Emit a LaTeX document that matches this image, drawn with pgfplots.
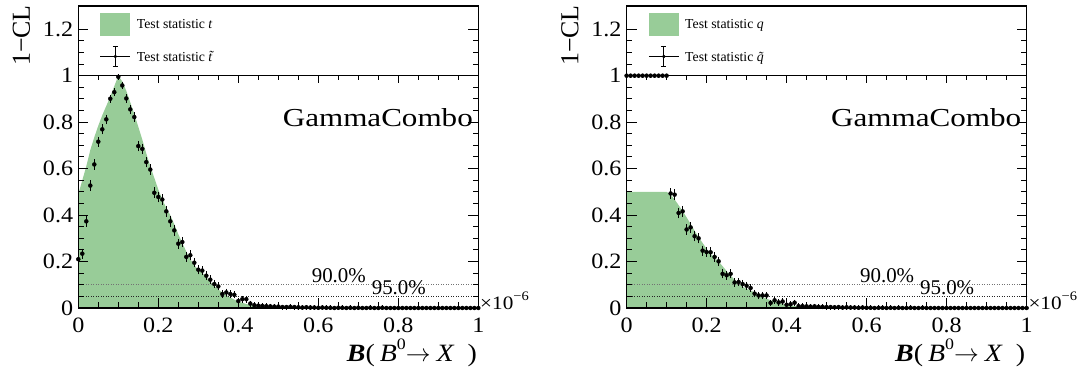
\documentclass[border=0pt]{standalone}
\usepackage{fontspec}
\setmainfont{Liberation Serif}
\newfontfamily\widefont[FakeStretch=1.1]{Liberation Serif}
\newfontfamily\gcfont[FakeStretch=1.2]{Liberation Serif}
\newfontfamily\labfont[FakeStretch=1.12]{Liberation Serif}
\usepackage{pgfplots}
\usepackage{pgfplotstable}
\pgfplotsset{compat=1.18}
\definecolor{fillgreen}{RGB}{152,204,152}

\pgfplotstableread{
x y e
0.00 0.210 0.0118
0.01 0.234 0.0122
0.02 0.373 0.0140
0.03 0.527 0.0144
0.04 0.618 0.0140
0.05 0.716 0.0130
0.06 0.769 0.0122
0.07 0.812 0.0113
0.08 0.901 0.0086
0.09 0.929 0.0074
0.10 0.995 0.0020
0.11 0.958 0.0058
0.12 0.902 0.0086
0.13 0.855 0.0102
0.14 0.822 0.0110
0.15 0.697 0.0133
0.16 0.685 0.0134
0.17 0.628 0.0140
0.18 0.596 0.0142
0.19 0.496 0.0144
0.20 0.478 0.0144
0.21 0.467 0.0144
0.22 0.416 0.0142
0.23 0.373 0.0140
0.24 0.334 0.0136
0.25 0.277 0.0129
0.26 0.284 0.0130
0.27 0.220 0.0120
0.28 0.227 0.0121
0.29 0.195 0.0114
0.30 0.165 0.0107
0.31 0.161 0.0106
0.32 0.139 0.0100
0.33 0.122 0.0094
0.34 0.103 0.0088
0.35 0.093 0.0084
0.36 0.060 0.0069
0.37 0.067 0.0072
0.38 0.060 0.0069
0.39 0.057 0.0067
0.40 0.030 0.0049
0.41 0.038 0.0055
0.42 0.038 0.0055
0.43 0.019 0.0039
0.44 0.012 0.0031
0.45 0.010 0.0029
0.46 0.009 0.0027
0.47 0.008 0.0026
0.48 0.007 0.0024
0.49 0.006 0.0022
0.50 0.006 0.0022
0.51 0.004 0.0018
0.52 0.004 0.0018
0.53 0.005 0.0020
0.54 0.004 0.0018
0.55 0.003 0.0016
0.56 0.002 0.0013
0.57 0.003 0.0016
0.58 0.002 0.0013
0.59 0.002 0.0013
0.60 0.001 0.0009
0.61 0.002 0.0013
0.62 0.001 0.0009
0.63 0.001 0.0009
0.64 0.000 0.0000
0.65 0.001 0.0009
0.66 0.001 0.0009
0.67 0.000 0.0000
0.68 0.001 0.0009
0.69 0.000 0.0000
0.70 0.001 0.0009
0.71 0.000 0.0000
0.72 0.000 0.0000
0.73 0.001 0.0009
0.74 0.000 0.0000
0.75 0.000 0.0000
0.76 0.001 0.0009
0.77 0.000 0.0000
0.78 0.000 0.0000
0.79 0.000 0.0000
0.80 0.000 0.0000
0.81 0.000 0.0000
0.82 0.000 0.0000
0.83 0.000 0.0000
0.84 0.000 0.0000
0.85 0.000 0.0000
0.86 0.000 0.0000
0.87 0.000 0.0000
0.88 0.000 0.0000
0.89 0.000 0.0000
0.90 0.000 0.0000
0.91 0.000 0.0000
0.92 0.000 0.0000
0.93 0.000 0.0000
0.94 0.000 0.0000
0.95 0.000 0.0000
0.96 0.000 0.0000
0.97 0.000 0.0000
0.98 0.000 0.0000
0.99 0.000 0.0000
1.00 0.000 0.0000
}\lefttbl

\pgfplotstableread{
x y e
0.00 1.000 0.0000
0.01 1.000 0.0000
0.02 1.000 0.0000
0.03 1.000 0.0000
0.04 1.000 0.0000
0.05 1.000 0.0000
0.06 1.000 0.0000
0.07 1.000 0.0000
0.08 1.000 0.0000
0.09 1.000 0.0000
0.10 1.000 0.0000
0.11 0.493 0.0144
0.12 0.488 0.0144
0.13 0.409 0.0142
0.14 0.416 0.0142
0.15 0.338 0.0137
0.16 0.347 0.0137
0.17 0.309 0.0133
0.18 0.300 0.0132
0.19 0.247 0.0125
0.20 0.241 0.0123
0.21 0.240 0.0123
0.22 0.220 0.0120
0.23 0.201 0.0116
0.24 0.147 0.0102
0.25 0.141 0.0100
0.26 0.147 0.0102
0.27 0.110 0.0090
0.28 0.112 0.0091
0.29 0.103 0.0088
0.30 0.096 0.0085
0.31 0.086 0.0081
0.32 0.062 0.0070
0.33 0.054 0.0065
0.34 0.054 0.0065
0.35 0.054 0.0065
0.36 0.022 0.0042
0.37 0.033 0.0052
0.38 0.024 0.0044
0.39 0.028 0.0048
0.40 0.014 0.0034
0.41 0.016 0.0036
0.42 0.023 0.0043
0.43 0.008 0.0026
0.44 0.008 0.0026
0.45 0.007 0.0024
0.46 0.006 0.0022
0.47 0.007 0.0024
0.48 0.005 0.0020
0.49 0.005 0.0020
0.50 0.004 0.0018
0.51 0.004 0.0018
0.52 0.003 0.0016
0.53 0.004 0.0018
0.54 0.002 0.0013
0.55 0.003 0.0016
0.56 0.002 0.0013
0.57 0.002 0.0013
0.58 0.001 0.0009
0.59 0.002 0.0013
0.60 0.001 0.0009
0.61 0.001 0.0009
0.62 0.000 0.0000
0.63 0.001 0.0009
0.64 0.001 0.0009
0.65 0.000 0.0000
0.66 0.001 0.0009
0.67 0.000 0.0000
0.68 0.001 0.0009
0.69 0.000 0.0000
0.70 0.000 0.0000
0.71 0.001 0.0009
0.72 0.000 0.0000
0.73 0.000 0.0000
0.74 0.001 0.0009
0.75 0.000 0.0000
0.76 0.000 0.0000
0.77 0.000 0.0000
0.78 0.000 0.0000
0.79 0.000 0.0000
0.80 0.000 0.0000
0.81 0.000 0.0000
0.82 0.000 0.0000
0.83 0.000 0.0000
0.84 0.000 0.0000
0.85 0.000 0.0000
0.86 0.000 0.0000
0.87 0.000 0.0000
0.88 0.000 0.0000
0.89 0.000 0.0000
0.90 0.000 0.0000
0.91 0.000 0.0000
0.92 0.000 0.0000
0.93 0.000 0.0000
0.94 0.000 0.0000
0.95 0.000 0.0000
0.96 0.000 0.0000
0.97 0.000 0.0000
0.98 0.000 0.0000
0.99 0.000 0.0000
1.00 0.000 0.0000
}\righttbl

\pgfplotsset{
  rootaxis/.style={
    scale only axis, width=400bp, height=302bp,
    anchor=south west,
    xmin=0, xmax=1, ymin=0, ymax=1.3,
    xtick={0,0.2,0.4,0.6,0.8,1},
    ytick={0,0.2,0.4,0.6,0.8,1,1.2},
    minor x tick num=3, minor y tick num=3,
    tick align=inside, xtick pos=bottom, ytick pos=both,
    major tick length=10bp, minor tick length=5.5bp,
    axis line style={line width=1.2bp},
    every tick/.style={black, line width=1bp},
    /pgf/number format/assume math mode=true,
    tick label style={font=\widefont\fontsize{22}{22}\selectfont},
    yticklabel style={anchor=east, inner sep=0pt, xshift=-5bp},
    xticklabel style={anchor=base, inner sep=0pt, yshift=-24bp},
    clip=false, axis on top,
    legend style={at={(rel axis cs:0,1)}, anchor=north west,
      xshift=21.7bp, yshift=-6.7bp, draw=none, fill=none,
      inner sep=0pt, outer sep=0pt, row sep=10.4bp, column sep=6bp,
      font=\fontsize{13.8}{13.8}\selectfont,
      nodes={inner sep=0pt, text depth=0pt}},
    legend cell align=left,
  },
  topaxis/.style={
    scale only axis, width=400bp, height=232.31bp,
    anchor=south west,
    xmin=0, xmax=1, ymin=0, ymax=1,
    xtick={0,0.2,0.4,0.6,0.8,1}, minor x tick num=3,
    xtick pos=top, tick align=inside, ytick=\empty, xticklabels={},
    major tick length=7bp, minor tick length=4bp,
    axis line style={line width=1.3bp},
    every tick/.style={black, line width=1bp},
  },
  datapts/.style={black, only marks, mark=*, mark size=2bp,
    mark options={fill=black, draw=black},
    legend image code/.code={
      \draw[black, line width=0.9bp] (0bp,0bp) -- (30bp,0bp);
      \draw[black, line width=0.9bp] (15bp,-9.65bp) -- (15bp,9.65bp);
      \draw[black, line width=0.9bp] (12.5bp,9.65bp) -- (17.5bp,9.65bp);
      \draw[black, line width=0.9bp] (12.5bp,-9.65bp) -- (17.5bp,-9.65bp);
      \fill[black] (15bp,0bp) circle (1.5bp);},
    error bars/.cd, y dir=both, y explicit,
    error bar style={line width=1.1bp, black},
    error mark options={line width=1bp, mark size=2.1bp, black}},
  fillstyle/.style={fill=fillgreen, draw=none,
    legend image code/.code={\fill[fillgreen] (0bp,-11.65bp) rectangle (30bp,11.65bp);}},
  cl90/.style={forget plot, black!55, line width=0.9bp, dash pattern=on 1bp off 1.5bp},
  cl95/.style={forget plot, black!85, line width=0.9bp, dash pattern=on 1bp off 1.5bp},
}

\begin{document}
\begin{tikzpicture}
\useasboundingbox (0,0) rectangle (1086bp,371bp);

% ---------------- left panel ----------------
\begin{axis}[rootaxis, at={(78.3bp,63bp)}]
\addplot[fillstyle] coordinates {
(0,0.49) (0.01,0.55) (0.02,0.61) (0.03,0.68) (0.04,0.735) (0.05,0.785)
(0.06,0.83) (0.07,0.87) (0.08,0.91) (0.09,0.955) (0.10,1.0)
(0.11,0.975) (0.12,0.935) (0.13,0.885) (0.14,0.835) (0.15,0.78)
(0.16,0.725) (0.17,0.665) (0.18,0.61) (0.19,0.56) (0.20,0.51)
(0.21,0.468) (0.22,0.43) (0.23,0.40) (0.24,0.36) (0.25,0.318)
(0.26,0.28) (0.27,0.243) (0.28,0.21) (0.29,0.183) (0.30,0.165)
(0.31,0.152) (0.32,0.133) (0.33,0.113) (0.34,0.095) (0.35,0.08)
(0.36,0.067) (0.37,0.056) (0.38,0.045) (0.39,0.036) (0.40,0.028)
(0.42,0.017) (0.44,0.01) (0.46,0.006) (0.48,0.003) (0.50,0.001) (0.52,0)
} \closedcycle;
\addlegendentry{Test statistic \textit{t}}
\addplot[cl90] coordinates {(0,0.1) (1,0.1)};
\addplot[cl95] coordinates {(0,0.05) (1,0.05)};
\addplot[datapts] table[x=x, y=y, y error=e] {\lefttbl};
\addlegendentry{Test statistic \textit{\~t}}
\node[anchor=base east, font=\gcfont\fontsize{26}{26}\selectfont] at (axis cs:0.995,0.783) {GammaCombo};
\node[anchor=base west, font=\fontsize{21}{21}\selectfont] at (axis cs:0.575,0.11) {90.0\%};
\node[anchor=base west, font=\fontsize{21}{21}\selectfont] at (axis cs:0.725,0.057) {95.0\%};
\end{axis}
\begin{axis}[topaxis, at={(78.3bp,63bp)}]
\end{axis}

% ---------------- right panel ----------------
\begin{axis}[rootaxis, at={(626.6bp,63bp)}]
\addplot[fillstyle] coordinates {
(0,0.5) (0.10,0.5) (0.11,0.4875) (0.12,0.4675) (0.13,0.4425) (0.14,0.4175)
(0.15,0.39) (0.16,0.3625) (0.17,0.3325) (0.18,0.305) (0.19,0.28)
(0.20,0.255) (0.21,0.234) (0.22,0.215) (0.23,0.20) (0.24,0.18)
(0.25,0.159) (0.26,0.14) (0.27,0.1215) (0.28,0.105) (0.29,0.0915)
(0.30,0.0825) (0.31,0.076) (0.32,0.0665) (0.33,0.0565) (0.34,0.0475)
(0.35,0.04) (0.36,0.0335) (0.37,0.028) (0.38,0.0225) (0.39,0.018)
(0.40,0.014) (0.42,0.0085) (0.44,0.005) (0.46,0.003) (0.48,0.0015)
(0.50,0.0005) (0.52,0)
} \closedcycle;
\addlegendentry{Test statistic \textit{q}}
\addplot[cl90] coordinates {(0,0.1) (1,0.1)};
\addplot[cl95] coordinates {(0,0.05) (1,0.05)};
\addplot[datapts] table[x=x, y=y, y error=e] {\righttbl};
\addlegendentry{Test statistic \textit{\~q}}
\node[anchor=base east, font=\gcfont\fontsize{26}{26}\selectfont] at (axis cs:0.995,0.783) {GammaCombo};
\node[anchor=base west, font=\fontsize{21}{21}\selectfont] at (axis cs:0.575,0.11) {90.0\%};
\node[anchor=base west, font=\fontsize{21}{21}\selectfont] at (axis cs:0.725,0.057) {95.0\%};
\end{axis}
\begin{axis}[topaxis, at={(626.6bp,63bp)}]
\end{axis}

% ---------------- titles ----------------
\foreach \dx in {0bp,548.3bp} {
  \node[rotate=90, anchor=east, inner sep=0pt, font=\fontsize{26}{26}\selectfont]
    at ([xshift=\dx]21.5bp,366bp) {1−CL};
  \node[anchor=base east, inner sep=0pt, font=\labfont\fontsize{25}{25}\selectfont]
    at ([xshift=\dx]477bp,9.5bp)
    {\textbf{\textit{B}}(\hspace{5bp}\textit{B}\raisebox{12bp}{\fontsize{16}{16}\selectfont 0}$\rightarrow$\hspace{6bp}\textit{X}\hspace{13bp})};
  \node[anchor=base west, inner sep=0pt, font=\labfont\fontsize{19}{19}\selectfont]
    at ([xshift=\dx]480bp,61.7bp)
    {×10\raisebox{9bp}{\fontsize{13}{13}\selectfont −6}};
}
\end{tikzpicture}
\end{document}
